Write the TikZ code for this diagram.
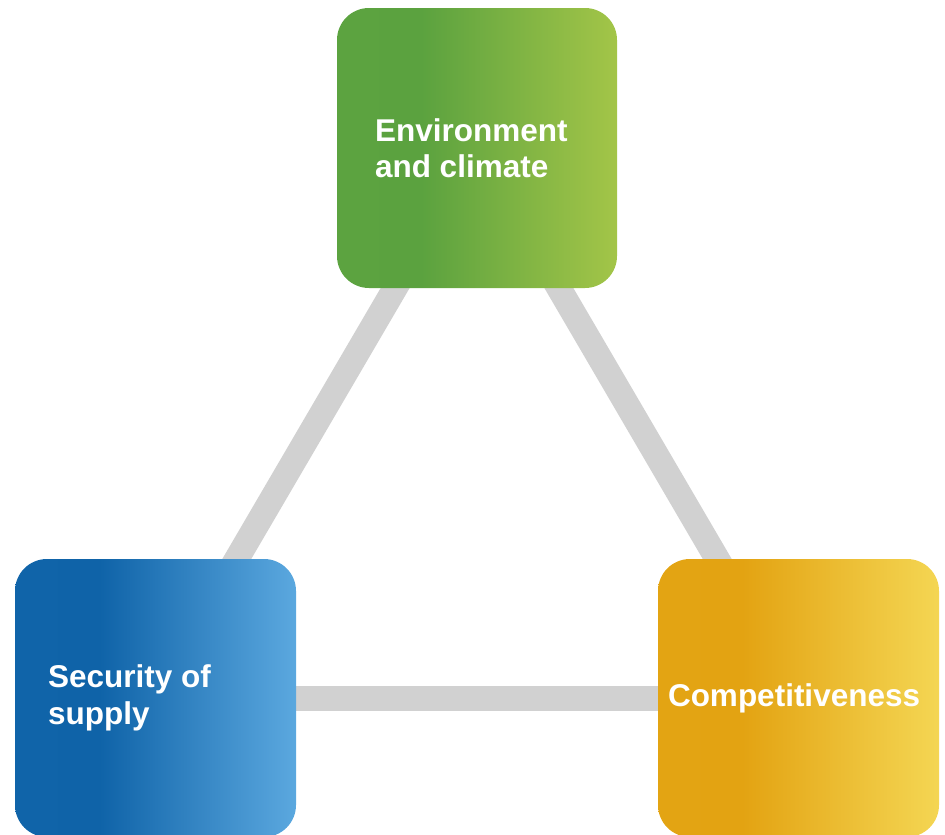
\documentclass[tikz,border=0pt]{standalone}
\usepackage{fontspec}
\setmainfont{Liberation Sans}
\usepackage{tikz}
\usetikzlibrary{positioning,backgrounds}

\definecolor{greenA}{HTML}{5CA340}
\definecolor{greenB}{HTML}{5BA23F}
\definecolor{greenC}{HTML}{A3C548}
\definecolor{blueA}{HTML}{1064A9}
\definecolor{blueB}{HTML}{0F63A8}
\definecolor{blueC}{HTML}{5BA8DF}
\definecolor{orangeA}{HTML}{E3A413}
\definecolor{orangeB}{HTML}{E3A312}
\definecolor{orangeC}{HTML}{F4D653}
\definecolor{tiegray}{HTML}{D1D1D1}

\pgfdeclarehorizontalshading{greenfade}{100bp}{color(0bp)=(greenA); color(25bp)=(greenA); color(40bp)=(greenB); color(75bp)=(greenC); color(100bp)=(greenC)}
\pgfdeclarehorizontalshading{bluefade}{100bp}{color(0bp)=(blueA); color(25bp)=(blueA); color(40bp)=(blueB); color(75bp)=(blueC); color(100bp)=(blueC)}
\pgfdeclarehorizontalshading{orangefade}{100bp}{color(0bp)=(orangeA); color(25bp)=(orangeA); color(40bp)=(orangeB); color(75bp)=(orangeC); color(100bp)=(orangeC)}

\begin{document}
\begin{tikzpicture}[x=1pt,y=-1pt,
    pillar/.style={rounded corners=32pt,minimum width=281pt,minimum height=278pt,inner sep=0pt},
    pillar text/.style={text=white,font=\fontsize{31.5}{36.5}\selectfont\bfseries,align=left,inner sep=0pt},
    tie/.style={line width=25pt,draw=tiegray}]

  \useasboundingbox (0,0) rectangle (945,835);

  \node[pillar,shading=greenfade,minimum width=280pt,minimum height=280pt] (env) at (477,148) {};
  \node[pillar,shading=bluefade] (sec) at (155.5,698) {};
  \node[pillar,shading=orangefade] (comp) at (798.5,698) {};

  \node[pillar text,right=38pt of env.west] (envtext) {Environment\\and climate};
  \node[pillar text,right=33pt of sec.west] (sectext) {Security of\\supply};
  \node[pillar text,right=10pt of comp.west] (comptext) {Competitiveness};

  \begin{pgfonlayer}{background}
    \path[tie] (env.center) edge (sec.center)
               (env.center) edge (comp.center)
               (sec.center) edge (comp.center);
  \end{pgfonlayer}
\end{tikzpicture}
\end{document}
